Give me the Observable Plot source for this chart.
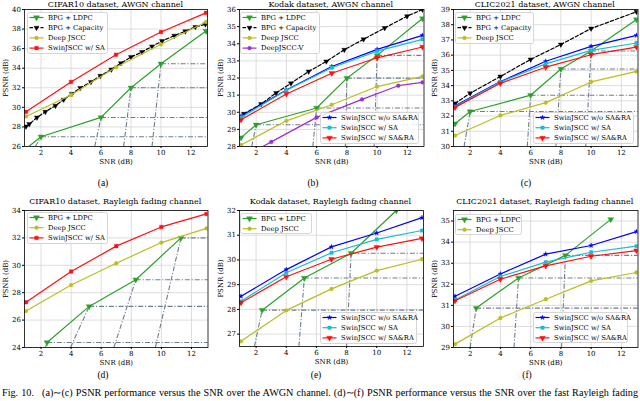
<!DOCTYPE html>
<html><head><meta charset="utf-8">
<script src="https://cdn.jsdelivr.net/npm/d3@7"></script>
<script src="https://cdn.jsdelivr.net/npm/@observablehq/plot@0.6"></script>
<style>
body{margin:0;background:#fff;}
#root{position:relative;width:640px;height:401px;overflow:hidden;font-family:"DejaVu Serif";color:#000;}
.title{position:absolute;font-size:8px;line-height:9px;white-space:nowrap;transform:translateX(-50%);}
.sub{position:absolute;font-family:"Liberation Serif";font-size:9.5px;line-height:10px;transform:translateX(-50%);}
.cap{position:absolute;left:2px;width:636px;top:387px;font-family:"Liberation Serif";font-size:10.2px;line-height:12px;text-align:justify;text-align-last:justify;white-space:nowrap;}
</style></head><body><div id="root"></div>
<script>
// ---------- shared ----------
const xTicks = [2, 4, 6, 8, 10, 12];
const xDomain = [0.9, 13.1];
const snr5 = [1, 4, 7, 10, 13];
const xLabel = "SNR (dB)";
const yLabel = "PSNR (dB)";
const nLdpc = "BPG + LDPC", nCap = "BPG + Capacity", nDeep = "Deep JSCC", nDeepV = "DeepJSCC-V";
const nSwinNo = "SwinJSCC w/o SA&RA", nSwinSA = "SwinJSCC w/ SA", nSwinSARA = "SwinJSCC w/ SA&RA";

// ---------- (a) CIFAR10 AWGN ----------
const aTitle = "CIFAR10 dataset, AWGN channel";
const aYTicks = [26, 28, 30, 32, 34, 36, 38, 40];
const aLdpcX = [1, 2, 6, 8, 10, 13];
const aLdpcY = [25.78, 27.0, 28.97, 32.0, 34.45, 37.8];
const aCapX = [1.0, 1.22, 1.73, 2.29, 2.96, 3.51, 4.06, 4.62, 5.33, 5.96, 6.69, 7.33, 8.0, 8.73, 9.4, 10.07, 10.89, 11.62, 12.29, 12.96];
const aCapY = [28.05, 28.29, 28.97, 29.55, 30.17, 30.79, 31.38, 31.99, 32.6, 33.22, 33.87, 34.52, 35.14, 35.65, 36.23, 36.78, 37.33, 37.77, 38.22, 38.49];
const aDeep = [29.07, 31.27, 34.1, 36.44, 38.73];
const aSwinSA = [29.55, 32.6, 35.38, 37.7, 39.66];
const aRefX = [2, 6, 8, 10];
const aRefY = [27.0, 28.97, 32.0, 34.45];
const aCliffX = [1.62, 5.58, 7.51, 9.4];

// ---------- (b) Kodak AWGN ----------
const bTitle = "Kodak dataset, AWGN channel";
const bYTicks = [28, 29, 30, 31, 32, 33, 34, 35, 36];
const bLdpcX = [1, 2, 6, 8, 10, 13];
const bLdpcY = [28.52, 29.27, 30.25, 31.99, 33.32, 35.47];
const bCapX = [1.2, 2.33, 3.32, 4.3, 5.47, 6.64, 7.83, 9.1, 10.5, 11.98, 13];
const bCapY = [29.91, 30.48, 31.13, 31.69, 32.38, 32.97, 33.65, 34.26, 34.92, 35.61, 36.0];
const bDeep = [28.09, 29.5, 30.44, 31.5, 32.09];
const bDeepVX = [1, 3, 6, 9, 11.4, 13];
const bDeepVY = [27.3, 28.27, 29.7, 30.75, 31.55, 31.75];
const bSwinNo = [29.78, 31.3, 32.67, 33.67, 34.49];
const bSwinSA = [29.7, 31.28, 32.6, 33.57, 34.26];
const bSwinSARA = [29.56, 31.07, 32.28, 33.18, 33.81];
const bRefX = [2, 6, 8, 10];
const bRefY = [29.27, 30.25, 31.99, 33.32];
const bCliffX = [1.71, 5.75, 7.9, 9.8];

// ---------- (c) CLIC2021 AWGN ----------
const cTitle = "CLIC2021 dataset, AWGN channel";
const cYTicks = [30, 31, 32, 33, 34, 35, 36, 37, 38, 39];
const cLdpcX = [1, 2, 6, 8, 10, 13];
const cLdpcY = [31.5, 32.3, 33.37, 35.09, 36.27, 38.34];
const cCapX = [1, 2, 4, 6, 8, 10, 13];
const cCapY = [32.83, 33.5, 34.6, 35.72, 36.7, 37.75, 38.85];
const cDeep = [30.72, 32.04, 32.88, 34.24, 34.93];
const cSwinNo = [32.68, 34.26, 35.6, 36.58, 37.3];
const cSwinSA = [32.62, 34.24, 35.43, 36.31, 36.8];
const cSwinSARA = [32.57, 34.15, 35.21, 36.03, 36.53];
const cRefX = [2, 6, 8, 10];
const cRefY = [32.3, 33.37, 35.09, 36.27];
const cCliffX = [1.6, 5.78, 7.67, 9.64];

// ---------- (d) CIFAR10 Rayleigh ----------
const dTitle = "CIFAR10 dataset, Rayleigh fading channel";
const dYTicks = [24, 26, 28, 30, 32, 34];
const dLdpcX = [2.4, 5.2, 8.3, 11.3];
const dLdpcY = [24.37, 27.0, 28.95, 32.0];
const dDeep = [26.66, 28.56, 30.15, 31.66, 32.7];
const dSwinSA = [27.3, 29.54, 31.4, 32.8, 33.75];
const dRefX = [2.4, 5.2, 8.3, 11.3];
const dRefY = [24.37, 27.0, 28.95, 32.0];
const dCliffX = [2.3, 3.96, 6.84, 9.6];

// ---------- (e) Kodak Rayleigh ----------
const eTitle = "Kodak dataset, Rayleigh fading channel";
const eYTicks = [27, 28, 29, 30, 31, 32];
const eLdpcX = [2.4, 5.2, 8.3, 11.3];
const eLdpcY = [27.97, 29.27, 30.27, 32.0];
const eDeep = [26.71, 27.96, 28.83, 29.57, 30.03];
const eSwinNo = [28.53, 29.61, 30.53, 31.09, 31.71];
const eSwinSA = [28.33, 29.48, 30.29, 30.83, 31.19];
const eSwinSARA = [28.27, 29.32, 30.03, 30.52, 30.87];
const eRefX = [2.4, 5.2, 8.3];
const eRefY = [27.97, 29.27, 30.27];
const eCliffX = [1.89, 4.84, 8.0];

// ---------- (f) CLIC2021 Rayleigh ----------
const fTitle = "CLIC2021 dataset, Rayleigh fading channel";
const fYTicks = [29, 30, 31, 32, 33, 34, 35];
const fLdpcX = [2.4, 5.2, 8.3, 11.3];
const fLdpcY = [30.87, 32.3, 33.37, 35.08];
const fDeep = [29.16, 30.4, 31.29, 32.16, 32.56];
const fSwinNo = [31.43, 32.49, 33.43, 33.84, 34.5];
const fSwinSA = [31.25, 32.37, 33.05, 33.52, 33.81];
const fSwinSARA = [31.22, 32.24, 32.87, 33.33, 33.6];
const fRefX = [2.4, 5.2, 8.3];
const fRefY = [30.87, 32.3, 33.37];
const fCliffX = [2.0, 4.9, 8.05];

const captionText = "Fig. 10.\u2002 (a)\u223C(c) PSNR performance versus the SNR over the AWGN channel. (d)\u223C(f) PSNR performance versus the SNR over the fast Rayleigh fading";

// ---------- styles ----------
const styles = {
  ldpc: {name: nLdpc, color: "#2ca02c", symbol: "triangle", rotate: 180, r: 2.2},
  cap: {name: nCap, color: "#000000", symbol: "triangle", rotate: 180, r: 1.9, dash: "3.5,2"},
  deep: {name: nDeep, color: "#bcbd22", symbol: "circle", r: 1.9},
  deepv: {name: nDeepV, color: "#9b30d0", symbol: "circle", r: 1.9},
  swinSAred: {name: nSwinSA, color: "#ff1010", symbol: "square", r: 2.0},
  swinNo: {name: nSwinNo, color: "#0000ff", symbol: "star", r: 1.5},
  swinSA: {name: nSwinSA, color: "#17becf", symbol: "square", r: 1.9},
  swinSARA: {name: nSwinSARA, color: "#ff1010", symbol: "triangle", rotate: 180, r: 2.1}
};

const panels = [
  {title: aTitle, titleY: 0, frame: {l: 24, r: 207, t: 9, b: 146}, yDomain: [26, 40], yTicks: aYTicks,
   series: [["ldpc", aLdpcX, aLdpcY], ["cap", aCapX, aCapY], ["deep", snr5, aDeep], ["swinSAred", snr5, aSwinSA]],
   refs: [aRefX, aRefY, aCliffX],
   legends: [{x: 27, y: 12, w: 81, h: 42, keys: ["ldpc", "cap", "deep", "swinSAred"]}],
   sub: "(a)", subX: 103, subY: 178},
  {title: bTitle, titleY: 0, frame: {l: 238.5, r: 423, t: 9, b: 146}, yDomain: [28, 36], yTicks: bYTicks,
   series: [["ldpc", bLdpcX, bLdpcY], ["cap", bCapX, bCapY], ["deep", snr5, bDeep], ["deepv", bDeepVX, bDeepVY],
            ["swinNo", snr5, bSwinNo], ["swinSA", snr5, bSwinSA], ["swinSARA", snr5, bSwinSARA]],
   refs: [bRefX, bRefY, bCliffX],
   legends: [{x: 240, y: 12, w: 80, h: 42, keys: ["ldpc", "cap", "deep", "deepv"]},
             {x: 320, y: 112, w: 99, h: 32, keys: ["swinNo", "swinSA", "swinSARA"]}],
   sub: "(b)", subX: 313, subY: 178},
  {title: cTitle, titleY: 0, frame: {l: 452.5, r: 637, t: 9, b: 146}, yDomain: [30, 39], yTicks: cYTicks,
   series: [["ldpc", cLdpcX, cLdpcY], ["cap", cCapX, cCapY], ["deep", snr5, cDeep],
            ["swinNo", snr5, cSwinNo], ["swinSA", snr5, cSwinSA], ["swinSARA", snr5, cSwinSARA]],
   refs: [cRefX, cRefY, cCliffX],
   legends: [{x: 455, y: 12, w: 79, h: 32, keys: ["ldpc", "cap", "deep"]},
             {x: 533, y: 112, w: 101, h: 32, keys: ["swinNo", "swinSA", "swinSARA"]}],
   sub: "(c)", subX: 526, subY: 178},
  {title: dTitle, titleY: 197, frame: {l: 23.5, r: 207, t: 210, b: 347}, yDomain: [24, 34], yTicks: dYTicks,
   series: [["ldpc", dLdpcX, dLdpcY], ["deep", snr5, dDeep], ["swinSAred", snr5, dSwinSA]],
   refs: [dRefX, dRefY, dCliffX],
   legends: [{x: 27, y: 212, w: 81, h: 32, keys: ["ldpc", "deep", "swinSAred"]}],
   sub: "(d)", subX: 103, subY: 370},
  {title: eTitle, titleY: 197, frame: {l: 238.5, r: 422.5, t: 210, b: 346}, yDomain: [26.5, 32], yTicks: eYTicks,
   series: [["ldpc", eLdpcX, eLdpcY], ["deep", snr5, eDeep],
            ["swinNo", snr5, eSwinNo], ["swinSA", snr5, eSwinSA], ["swinSARA", snr5, eSwinSARA]],
   refs: [eRefX, eRefY, eCliffX],
   legends: [{x: 240, y: 213, w: 72, h: 21, keys: ["ldpc", "deep"]},
             {x: 320, y: 312, w: 97, h: 32, keys: ["swinNo", "swinSA", "swinSARA"]}],
   sub: "(e)", subX: 316, subY: 370},
  {title: fTitle, titleY: 197, frame: {l: 452.5, r: 637, t: 210, b: 347}, yDomain: [29, 35.5], yTicks: fYTicks,
   series: [["ldpc", fLdpcX, fLdpcY], ["deep", snr5, fDeep],
            ["swinNo", snr5, fSwinNo], ["swinSA", snr5, fSwinSA], ["swinSARA", snr5, fSwinSARA]],
   refs: [fRefX, fRefY, fCliffX],
   legends: [{x: 455, y: 214, w: 67, h: 21, keys: ["ldpc", "deep"]},
             {x: 533, y: 312, w: 95, h: 31, keys: ["swinNo", "swinSA", "swinSARA"]}],
   sub: "(f)", subX: 527, subY: 370}
];

const root = document.getElementById("root");
const ML = 24, MT = 9, MR = 3, MB = 26;
const gray = "#6f7f90";
const dashDot = "5,1.8,1.2,1.8";

function symbolPath(st) {
  const types = {circle: d3.symbolCircle, square: d3.symbolSquare, triangle: d3.symbolTriangle, star: d3.symbolStar};
  return d3.symbol(types[st.symbol], Math.PI * st.r * st.r)();
}

for (const p of panels) {
  const fw = p.frame.r - p.frame.l, fh = p.frame.b - p.frame.t;
  const yMin = p.yDomain[0];
  const refs = p.refs[0].map((x, i) => ({x, y: p.refs[1][i], x0: p.refs[2][i]}));
  const marks = [
    Plot.gridX(xTicks, {stroke: "#d4d4d4", strokeOpacity: 1, strokeWidth: 0.8}),
    Plot.gridY(p.yTicks, {stroke: "#d4d4d4", strokeOpacity: 1, strokeWidth: 0.8}),
    Plot.link(refs, {x1: "x0", y1: () => yMin, x2: "x", y2: "y", stroke: gray, strokeWidth: 1.1, strokeDasharray: dashDot, clip: true}),
    Plot.link(refs, {x1: "x", y1: "y", x2: () => xDomain[1], y2: "y", stroke: gray, strokeWidth: 1.1, strokeDasharray: dashDot, clip: true})
  ];
  for (const [k, xs, ys] of p.series) {
    const st = styles[k];
    const data = xs.map((x, i) => ({x, y: ys[i]}));
    marks.push(Plot.line(data, {x: "x", y: "y", stroke: st.color, strokeWidth: 1.2, strokeDasharray: st.dash, clip: true}));
    marks.push(Plot.dot(data, {x: "x", y: "y", fill: st.color, stroke: st.color, strokeWidth: 0.4, r: st.r, symbol: st.symbol, rotate: st.rotate || 0, clip: true}));
  }
  marks.push(Plot.frame({stroke: "#000", strokeWidth: 0.8}));
  marks.push(Plot.axisX(xTicks, {tickSize: 2, tickPadding: 1.5, fontSize: 7, label: xLabel, labelAnchor: "center", labelOffset: 17, labelArrow: "none"}));
  marks.push(Plot.axisY(p.yTicks, {tickSize: 2, tickPadding: 1.5, fontSize: 7, label: yLabel, labelAnchor: "center", labelOffset: 21, labelArrow: "none"}));
  const svg = Plot.plot({
    width: fw + ML + MR, height: fh + MT + MB,
    marginLeft: ML, marginTop: MT, marginRight: MR, marginBottom: MB,
    x: {domain: xDomain}, y: {domain: p.yDomain},
    style: {fontFamily: "DejaVu Serif", fontSize: "7px", background: "transparent", overflow: "visible", color: "#000"},
    marks
  });
  svg.style.position = "absolute";
  svg.style.left = (p.frame.l - ML) + "px";
  svg.style.top = (p.frame.t - MT) + "px";
  root.appendChild(svg);

  // title
  const t = document.createElement("div");
  t.className = "title";
  t.textContent = p.title;
  t.style.left = ((p.frame.l + p.frame.r) / 2) + "px";
  t.style.top = p.titleY + "px";
  root.appendChild(t);

  // sub caption
  const s = document.createElement("div");
  s.className = "sub";
  s.textContent = p.sub;
  s.style.left = p.subX + "px";
  s.style.top = p.subY + "px";
  root.appendChild(s);

  // legends
  for (const lg of p.legends) {
    const L = d3.create("svg").attr("width", lg.w).attr("height", lg.h)
      .style("position", "absolute").style("left", lg.x + "px").style("top", lg.y + "px").style("overflow", "visible");
    L.append("rect").attr("x", 0.5).attr("y", 0.5).attr("width", lg.w - 1).attr("height", lg.h - 1).attr("rx", 2)
      .attr("fill", "#fff").attr("fill-opacity", 0.85).attr("stroke", "#cccccc").attr("stroke-width", 0.8);
    lg.keys.forEach((k, i) => {
      const st = styles[k];
      const cy = 5.5 + i * 10.2;
      L.append("line").attr("x1", 2.5).attr("x2", 16.5).attr("y1", cy).attr("y2", cy)
        .attr("stroke", st.color).attr("stroke-width", 1.2).attr("stroke-dasharray", st.dash || null);
      L.append("path").attr("d", symbolPath(st)).attr("fill", st.color).attr("stroke", st.color).attr("stroke-width", 0.4)
        .attr("transform", `translate(9.5,${cy}) rotate(${st.rotate || 0})`);
      L.append("text").attr("x", 21).attr("y", cy).attr("dy", "0.35em")
        .attr("font-family", "DejaVu Serif").attr("font-size", 6.8).attr("fill", "#000").text(st.name);
    });
    root.appendChild(L.node());
  }
}

const cap = document.createElement("div");
cap.className = "cap";
cap.textContent = captionText;
root.appendChild(cap);
</script>
</body></html>
